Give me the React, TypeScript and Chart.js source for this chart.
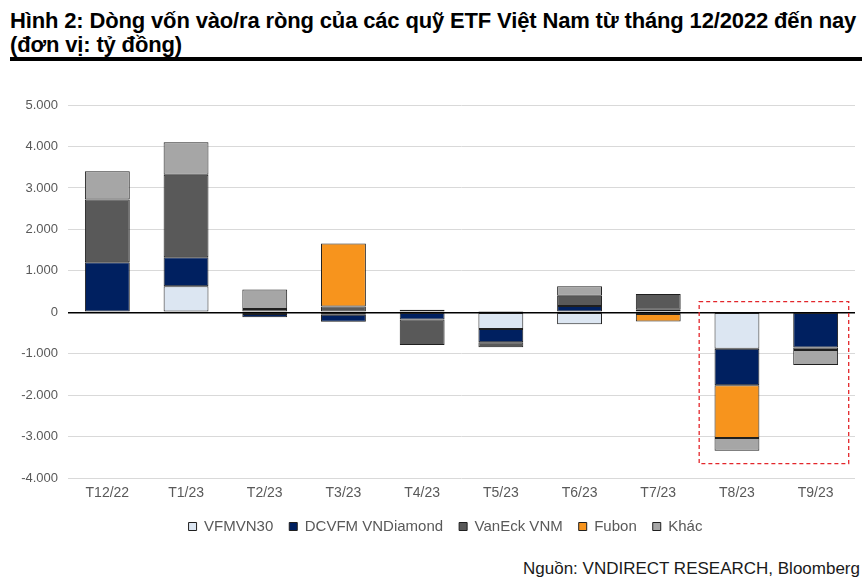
import React, { useEffect, useRef } from "react";
import { Chart, registerables } from "chart.js";

Chart.register(...registerables);

const categories = ["T12/22", "T1/23", "T2/23", "T3/23", "T4/23", "T5/23", "T6/23", "T7/23", "T8/23", "T9/23"];
const vfmvn30 = [null, 630, -40, -60, null, -400, -290, 60, -880, null];
const dcvfm = [1210, 700, -80, -170, -170, -320, 150, -40, -880, -850];
const vaneck = [1510, 1990, 80, 140, -620, -120, 250, 380, null, -60];
const fubon = [null, null, null, 1520, null, null, null, -180, -1270, null];
const khac = [680, 780, 470, null, 60, 30, 230, null, -310, -360];
const yTicks = [-4000, -3000, -2000, -1000, 0, 1000, 2000, 3000, 4000, 5000];
// highlighted region (category index range and value range)
const highlightX = [7.52, 9.42];
const highlightY = [260, -3650];

const fmt = (v: number) => {
  const s = Math.abs(v).toString().replace(/\B(?=(\d{3})+(?!\d))/g, ".");
  return (v < 0 ? "-" : "") + s;
};

const highlightPlugin = {
  id: "highlight",
  afterDatasetsDraw(chart: any) {
    const { ctx, scales } = chart;
    const x1 = scales.x.getPixelForValue(highlightX[0]);
    const x2 = scales.x.getPixelForValue(highlightX[1]);
    const y1 = scales.y.getPixelForValue(highlightY[0]);
    const y2 = scales.y.getPixelForValue(highlightY[1]);
    ctx.save();
    ctx.strokeStyle = "#e3262b";
    ctx.lineWidth = 1.3;
    ctx.setLineDash([4, 3]);
    ctx.strokeRect(x1, y1, x2 - x1, y2 - y1);
    ctx.restore();
  },
};

// nudge the legend block so it sits where the original one does
const legendShiftPlugin = {
  id: "legendShift",
  afterLayout(chart: any) {
    const lg = chart.legend;
    if (!lg) return;
    lg.left += 14;
    lg.right += 14;
    lg.top -= 6;
    lg.bottom -= 6;
  },
};

export default function App() {
  const ref = useRef<HTMLCanvasElement>(null);
  useEffect(() => {
    document.body.style.margin = "0";
    const border = "#1f1f1f";
    const mk = (label: string, data: any[], color: string) => ({
      label,
      data,
      backgroundColor: color,
      borderColor: border,
      borderWidth: 1,
      borderSkipped: false,
      barPercentage: 0.57,
      categoryPercentage: 1,
    });
    const chart = new Chart(ref.current!, {
      type: "bar",
      data: {
        labels: categories,
        datasets: [
          mk("VFMVN30", vfmvn30, "#dce6f2"),
          mk("DCVFM VNDiamond", dcvfm, "#002060"),
          mk("VanEck VNM", vaneck, "#595959"),
          mk("Fubon", fubon, "#f7941d"),
          mk("Khác", khac, "#a6a6a6"),
        ],
      },
      options: {
        animation: false,
        responsive: false,
        maintainAspectRatio: false,
        layout: { padding: { left: 8, right: 11, top: 43, bottom: 6 } },
        plugins: {
          tooltip: { enabled: false },
          legend: {
            position: "bottom",
            labels: {
              boxWidth: 8,
              boxHeight: 8,
              color: "#595959",
              font: { family: "Liberation Sans", size: 15 },
              padding: 16,
            },
          },
        },
        scales: {
          x: {
            stacked: true,
            grid: { display: false, drawTicks: false },
            border: { display: false },
            ticks: { color: "#595959", font: { family: "Liberation Sans", size: 14 }, padding: 7 },
          },
          y: {
            stacked: true,
            min: -4000,
            max: 5000,
            afterFit: (s: any) => { s.width = 60; },
            afterBuildTicks: (s: any) => { s.ticks = yTicks.map((v) => ({ value: v })); },
            grid: {
              drawTicks: false,
              color: (c: any) => (c.tick && c.tick.value === 0 ? "#000000" : "#d9d9d9"),
              lineWidth: (c: any) => (c.tick && c.tick.value === 0 ? 1.5 : 1),
            },
            border: { display: false },
            ticks: {
              color: "#595959",
              font: { family: "Liberation Sans", size: 13 },
              padding: 10,
              callback: (v: any) => fmt(Number(v)),
            },
          },
        },
      },
      plugins: [highlightPlugin, legendShiftPlugin],
    });
    return () => chart.destroy();
  }, []);

  return (
    <div style={{ position: "relative", width: 866, height: 582, background: "#fff", fontFamily: "Liberation Sans, Arial, sans-serif" }}>
      <div style={{ position: "absolute", left: 10, top: 9, width: 856, fontWeight: "bold", fontSize: 22, lineHeight: "24px", letterSpacing: "-0.15px", color: "#000", whiteSpace: "nowrap" }}>
        <div>Hình 2: Dòng vốn vào/ra ròng của các quỹ ETF Việt Nam từ tháng 12/2022 đến nay</div>
        <div>(đơn vị: tỷ đồng)</div>
      </div>
      <div style={{ position: "absolute", left: 10, top: 57, width: 852, height: 4, background: "#000" }} />
      <canvas ref={ref} width={866} height={494} style={{ position: "absolute", left: 0, top: 62, width: 866, height: 494 }} />
      <div style={{ position: "absolute", right: 6, top: 559, fontSize: 17, color: "#1a1a1a", whiteSpace: "nowrap" }}>
        Nguồn: VNDIRECT RESEARCH, Bloomberg
      </div>
    </div>
  );
}
